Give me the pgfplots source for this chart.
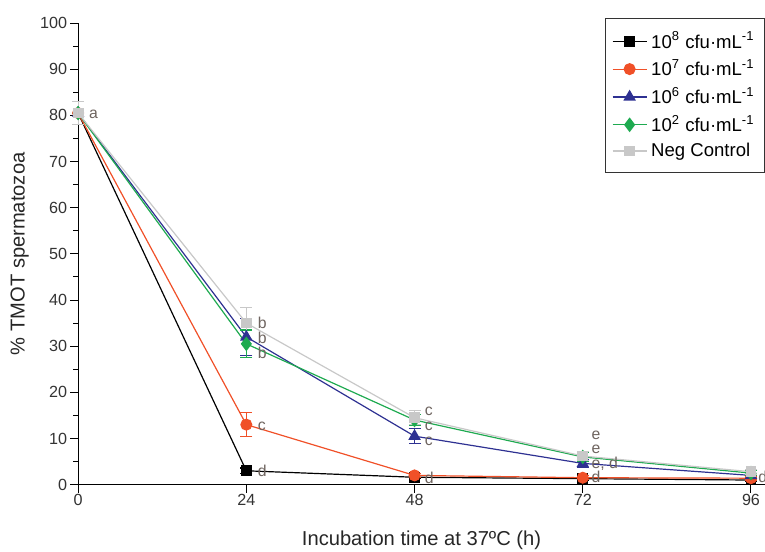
\documentclass[border=0pt]{standalone}
\usepackage{pgfplots}
\pgfplotsset{compat=1.18}
\usepackage{fontspec}
\setmainfont{Liberation Sans}
\definecolor{cred}{RGB}{240,80,40}
\definecolor{cblue}{RGB}{46,49,146}
\definecolor{cgreen}{RGB}{30,170,80}
\definecolor{cgray}{RGB}{200,200,200}
\definecolor{ltr}{RGB}{110,100,95}
\begin{document}
\begin{tikzpicture}
\begin{axis}[
  name=ax,
  scale only axis,
  width=343bp, height=230.5bp,
  xmin=0, xmax=98, ymin=0, ymax=100,
  axis lines*=left,
  axis line style={line width=0.6pt},
  tick align=outside,
  xtick={0,24,48,72,96},
  ytick={0,10,...,100},
  minor y tick num=1,
  major tick length=4bp, minor tick length=2.5bp,
  tick style={black, line width=0.5pt},
  /pgf/number format/assume math mode=true,
  tick label style={font=\fontsize{8.1}{9.5}\selectfont, text=black!80},
  xticklabel style={yshift=2.5bp},
  yticklabel style={xshift=2bp},
  label style={font=\fontsize{10.1}{11}\selectfont, text=black!85},
  xlabel={Incubation time at 37ºC (h)},
  ylabel={\% TMOT spermatozoa},
  xlabel style={at={(axis description cs:0.5,-0.12)}, anchor=center},
  ylabel style={at={(axis description cs:-0.085,0.5)}, anchor=center},
  clip=false,
  legend style={at={(rel axis cs:1.0,1.011)}, anchor=north east,
    font=\fontsize{9.3}{11}\selectfont, draw=black!80, line width=0.5pt,
    row sep=0.1bp, inner xsep=3bp, inner ysep=4.5bp},
  legend cell align=left,
  legend image post style={line width=0.6pt},
  every axis plot/.append style={line width=0.6pt},
  error bars/y dir=both, error bars/y explicit,
  error bars/error bar style={line width=0.6pt},
  error bars/error mark options={rotate=90, mark size=3bp, line width=0.6pt},
]
\addplot[black, mark=square*, mark size=2.4bp] coordinates {
 (0,80.5) +- (0,2.5) (24,3) +- (0,0.6) (48,1.6) +- (0,0.3) (72,1.3) +- (0,0.3) (96,1.0) +- (0,0.3)};
\addlegendentry{10\textsuperscript{8} cfu·mL\textsuperscript{-1}}
\addplot[cred, mark=*, mark size=2.7bp] coordinates {
 (0,80.5) +- (0,2.5) (24,13) +- (0,2.6) (48,2.0) +- (0,0.5) (72,1.5) +- (0,0.4) (96,1.4) +- (0,0.4)};
\addlegendentry{10\textsuperscript{7} cfu·mL\textsuperscript{-1}}
\addplot[cblue, mark=triangle*, mark size=3bp] coordinates {
 (0,80.5) +- (0,2.5) (24,32) +- (0,4) (48,10.5) +- (0,1.6) (72,4.6) +- (0,0.8) (96,2.0) +- (0,0.5)};
\addlegendentry{10\textsuperscript{6} cfu·mL\textsuperscript{-1}}
\addplot[cgreen, mark=diamond*, mark size=3.2bp] coordinates {
 (0,80.5) +- (0,2.5) (24,30.5) +- (0,3) (48,14) +- (0,1.2) (72,6) +- (0,0.9) (96,2.5) +- (0,0.5)};
\addlegendentry{10\textsuperscript{2} cfu·mL\textsuperscript{-1}}
\addplot[cgray, mark=square*, mark size=2.4bp] coordinates {
 (0,80.5) +- (0,2.5) (24,35) +- (0,3.4) (48,14.5) +- (0,1.5) (72,6.2) +- (0,1) (96,2.8) +- (0,0.5)};
\addlegendentry{Neg Control}
\begin{scope}[every node/.style={font=\fontsize{7.9}{9}\selectfont, text=ltr, anchor=west, inner sep=0pt, text height=1.1ex, text depth=0pt}]
\node at (axis cs:1.5,80.5) {a};
\node at (axis cs:25.6,35.1) {b};
\node at (axis cs:25.6,31.8) {b};
\node at (axis cs:25.6,28.5) {b};
\node at (axis cs:25.6,13) {c};
\node at (axis cs:25.6,3) {d};
\node at (axis cs:49.4,16.2) {c};
\node at (axis cs:49.4,13.0) {c};
\node at (axis cs:49.4,9.8) {c};
\node at (axis cs:49.4,1.6) {d};
\node at (axis cs:73.2,11.0) {e};
\node at (axis cs:73.2,7.9) {e};
\node at (axis cs:73.2,4.8) {e, d};
\node at (axis cs:73.2,1.7) {d};
\node[overlay] at (axis cs:97.0,1.7) {d};
\end{scope}
\end{axis}
\pgfresetboundingbox
\path ([shift={(-39bp,-33.5bp)}]ax.south west) rectangle ([shift={(0bp,11.5bp)}]ax.north east);
\end{tikzpicture}
\end{document}
